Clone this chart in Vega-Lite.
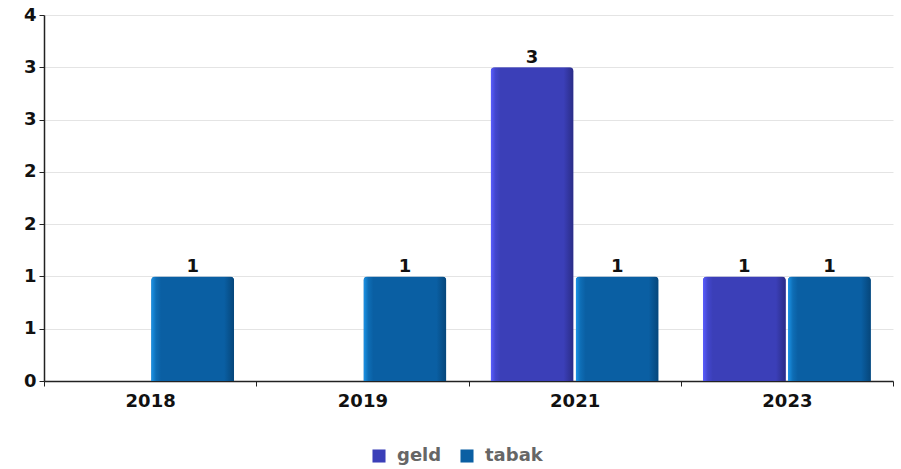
{
  "$schema": "https://vega.github.io/schema/vega-lite/v6.json",
  "width": 849,
  "height": 366,
  "autosize": {"type": "none"},
  "padding": {"left": 44, "top": 15, "right": 8, "bottom": 88},
  "background": "white",
  "config": {
    "font": "DejaVu Sans",
    "view": {"stroke": null},
    "axis": {"labelFont": "DejaVu Sans", "labelFontWeight": "bold", "labelFontSize": 18, "labelColor": "#111", "domainColor": "#222", "tickColor": "#222", "title": null}
  },
  "data": {"values": [
    {"year": "2018", "series": "tabak", "value": 1},
    {"year": "2019", "series": "tabak", "value": 1},
    {"year": "2021", "series": "geld", "value": 3},
    {"year": "2021", "series": "tabak", "value": 1},
    {"year": "2023", "series": "geld", "value": 1},
    {"year": "2023", "series": "tabak", "value": 1}
  ]},
  "encoding": {
    "x": {"field": "year", "type": "nominal", "scale": {"domain": ["2018", "2019", "2021", "2023"], "paddingInner": 0, "paddingOuter": 0}, "axis": {"labelAngle": 0, "tickBand": "extent", "tickSize": 5, "labelPadding": 6, "domainWidth": 1.5}},
    "xOffset": {"field": "series", "type": "nominal", "scale": {"domain": ["geld", "tabak"], "paddingInner": 0.024, "paddingOuter": 0.26}},
    "y": {"field": "value", "type": "quantitative", "scale": {"domain": [0, 3.5], "nice": false}, "axis": {"values": [0, 0.5, 1, 1.5, 2, 2.5, 3, 3.5], "format": ".0f", "gridColor": "#e4e4e4", "tickSize": 5, "labelPadding": 3, "domainWidth": 1.5}}
  },
  "layer": [
    {
      "mark": {"type": "bar", "cornerRadiusTopLeft": 4, "cornerRadiusTopRight": 4},
      "encoding": {
        "color": {"field": "series", "type": "nominal", "scale": {"domain": ["geld", "tabak"], "range": ["#3b3fb8", "#0a5fa3"]},
          "legend": {"orient": "none", "legendX": 326, "legendY": 432, "direction": "horizontal", "title": null, "symbolType": "square", "symbolSize": 170, "labelFont": "DejaVu Sans", "labelFontWeight": "bold", "labelFontSize": 18, "labelColor": "#666", "labelOffset": 9, "columnPadding": 16, "symbolStrokeWidth": 0}}
      }
    },
    {
      "transform": [{"filter": "datum.series === 'geld'"}],
      "mark": {"type": "bar", "cornerRadiusTopLeft": 4, "cornerRadiusTopRight": 4,
        "color": {"gradient": "linear", "x1": 0, "y1": 0, "x2": 1, "y2": 0, "stops": [
          {"offset": 0, "color": "#5a5eff"}, {"offset": 0.06, "color": "#4246cc"}, {"offset": 0.12, "color": "#3b3fb8"}, {"offset": 0.88, "color": "#3b3fb8"}, {"offset": 1, "color": "#2a2c85"}]}}
    },
    {
      "transform": [{"filter": "datum.series === 'tabak'"}],
      "mark": {"type": "bar", "cornerRadiusTopLeft": 4, "cornerRadiusTopRight": 4,
        "color": {"gradient": "linear", "x1": 0, "y1": 0, "x2": 1, "y2": 0, "stops": [
          {"offset": 0, "color": "#1c95e8"}, {"offset": 0.06, "color": "#0e6db5"}, {"offset": 0.12, "color": "#0a5fa3"}, {"offset": 0.88, "color": "#0a5fa3"}, {"offset": 1, "color": "#06467a"}]}}
    },
    {
      "mark": {"type": "text", "baseline": "bottom", "dy": 0, "font": "DejaVu Sans", "fontWeight": "bold", "fontSize": 18, "color": "#111"},
      "encoding": {"text": {"field": "value", "type": "quantitative", "format": ".0f"}}
    }
  ]
}
